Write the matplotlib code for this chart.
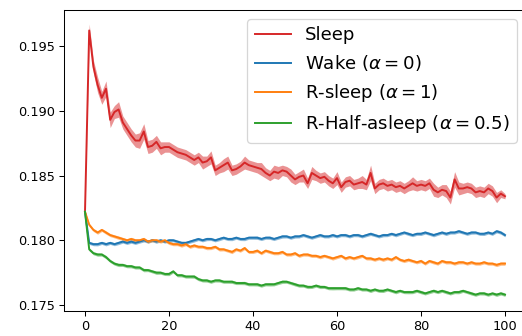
import numpy as np
import matplotlib
matplotlib.use("Agg")
import matplotlib.pyplot as plt

epochs = list(range(101))

sleep = [0.1822, 0.1962, 0.1934, 0.1920, 0.1910, 0.1917, 0.1893, 0.1899, 0.1901, 0.1891,
         0.1886, 0.1881, 0.1877, 0.1877, 0.1884, 0.1872, 0.1873, 0.1876, 0.1871, 0.1872,
         0.1872, 0.1870, 0.1868, 0.1867, 0.1866, 0.1864, 0.1862, 0.1864, 0.1860, 0.1861,
         0.1864, 0.1854, 0.1856, 0.1858, 0.1860, 0.1854, 0.1855, 0.1857, 0.1860, 0.1858,
         0.1857, 0.1856, 0.1855, 0.1852, 0.1850, 0.1853, 0.1852, 0.1854, 0.1853, 0.1850,
         0.1847, 0.1849, 0.1850, 0.1844, 0.1852, 0.1850, 0.1848, 0.1849, 0.1846, 0.1844,
         0.1848, 0.1841, 0.1845, 0.1846, 0.1843, 0.1844, 0.1845, 0.1843, 0.1852, 0.1840,
         0.1843, 0.1844, 0.1842, 0.1843, 0.1841, 0.1842, 0.1840, 0.1842, 0.1844, 0.1842,
         0.1843, 0.1842, 0.1844, 0.1839, 0.1837, 0.1839, 0.1838, 0.1833, 0.1847, 0.1840,
         0.1840, 0.1841, 0.1840, 0.1837, 0.1838, 0.1837, 0.1840, 0.1838, 0.1833, 0.1836,
         0.1834]
sleep_err = [0.0001, 0.0005, 0.0005, 0.0006, 0.0005, 0.0006, 0.0006, 0.0005, 0.0006, 0.0005,
             0.0005, 0.0005, 0.0005, 0.0006, 0.0006, 0.0005, 0.0005, 0.0005, 0.0005, 0.0004,
             0.0004, 0.0004, 0.0004, 0.0004, 0.0004, 0.0004, 0.0004, 0.0004, 0.0005, 0.0004,
             0.0005, 0.0004, 0.0004, 0.0005, 0.0005, 0.0004, 0.0004, 0.0004, 0.0005, 0.0004,
             0.0004, 0.0004, 0.0005, 0.0004, 0.0004, 0.0005, 0.0005, 0.0004, 0.0004, 0.0005,
             0.0004, 0.0004, 0.0005, 0.0004, 0.0005, 0.0004, 0.0004, 0.0004, 0.0004, 0.0004,
             0.0005, 0.0004, 0.0004, 0.0004, 0.0004, 0.0004, 0.0005, 0.0004, 0.0006, 0.0004,
             0.0004, 0.0004, 0.0004, 0.0004, 0.0004, 0.0004, 0.0004, 0.0004, 0.0005, 0.0004,
             0.0004, 0.0004, 0.0004, 0.0005, 0.0004, 0.0004, 0.0005, 0.0005, 0.0006, 0.0005,
             0.0004, 0.0004, 0.0004, 0.0004, 0.0004, 0.0004, 0.0004, 0.0004, 0.0004, 0.0003,
             0.0002]

wake = [0.1822, 0.1798, 0.1797, 0.1797, 0.1798, 0.1797, 0.1798, 0.1797, 0.1798, 0.1799,
        0.1798, 0.1799, 0.1798, 0.1799, 0.1800, 0.1799, 0.1800, 0.1799, 0.1800, 0.1799,
        0.1800, 0.1800, 0.1799, 0.1798, 0.1798, 0.1799, 0.1800, 0.1801, 0.1800, 0.1801,
        0.1801, 0.1800, 0.1801, 0.1802, 0.1801, 0.1801, 0.1802, 0.1801, 0.1801, 0.1802,
        0.1802, 0.1802, 0.1801, 0.1802, 0.1802, 0.1801, 0.1802, 0.1803, 0.1803, 0.1802,
        0.1803, 0.1803, 0.1804, 0.1803, 0.1802, 0.1803, 0.1804, 0.1803, 0.1803, 0.1804,
        0.1803, 0.1804, 0.1804, 0.1803, 0.1804, 0.1804, 0.1803, 0.1804, 0.1805, 0.1804,
        0.1803, 0.1804, 0.1804, 0.1805, 0.1804, 0.1805, 0.1806, 0.1805, 0.1804, 0.1805,
        0.1805, 0.1806, 0.1805, 0.1804, 0.1805, 0.1806, 0.1805, 0.1806, 0.1806, 0.1807,
        0.1806, 0.1805, 0.1806, 0.1806, 0.1805, 0.1805, 0.1806, 0.1805, 0.1807, 0.1806,
        0.1804]

r_sleep = [0.1822, 0.1812, 0.1808, 0.1806, 0.1808, 0.1806, 0.1804, 0.1803, 0.1802, 0.1801,
           0.1800, 0.1801, 0.1800, 0.1800, 0.1801, 0.1799, 0.1800, 0.1800, 0.1799, 0.1800,
           0.1798, 0.1797, 0.1797, 0.1796, 0.1797, 0.1795, 0.1796, 0.1795, 0.1795, 0.1794,
           0.1794, 0.1795, 0.1793, 0.1793, 0.1792, 0.1791, 0.1793, 0.1792, 0.1794, 0.1791,
           0.1791, 0.1792, 0.1790, 0.1792, 0.1791, 0.1790, 0.1790, 0.1791, 0.1789, 0.1789,
           0.1790, 0.1788, 0.1789, 0.1789, 0.1788, 0.1788, 0.1787, 0.1788, 0.1787, 0.1786,
           0.1787, 0.1788, 0.1786, 0.1787, 0.1786, 0.1787, 0.1788, 0.1786, 0.1786, 0.1785,
           0.1786, 0.1785, 0.1786, 0.1785, 0.1787, 0.1785, 0.1784, 0.1785, 0.1784, 0.1783,
           0.1784, 0.1782, 0.1784, 0.1783, 0.1782, 0.1784, 0.1783, 0.1783, 0.1782, 0.1783,
           0.1783, 0.1782, 0.1783, 0.1782, 0.1782, 0.1783, 0.1782, 0.1782, 0.1781, 0.1782,
           0.1782]

r_half = [0.1822, 0.1793, 0.1790, 0.1789, 0.1789, 0.1787, 0.1784, 0.1782, 0.1781, 0.1781,
          0.1780, 0.1780, 0.1779, 0.1779, 0.1777, 0.1777, 0.1776, 0.1775, 0.1775, 0.1774,
          0.1774, 0.1776, 0.1773, 0.1773, 0.1772, 0.1772, 0.1772, 0.1770, 0.1769, 0.1769,
          0.1768, 0.1769, 0.1769, 0.1768, 0.1768, 0.1768, 0.1767, 0.1767, 0.1767, 0.1766,
          0.1766, 0.1766, 0.1765, 0.1766, 0.1766, 0.1766, 0.1767, 0.1768, 0.1768, 0.1767,
          0.1766, 0.1765, 0.1765, 0.1764, 0.1764, 0.1765, 0.1764, 0.1764, 0.1763, 0.1763,
          0.1763, 0.1763, 0.1763, 0.1762, 0.1762, 0.1763, 0.1762, 0.1762, 0.1761, 0.1762,
          0.1761, 0.1761, 0.1762, 0.1761, 0.1760, 0.1761, 0.1760, 0.1760, 0.1760, 0.1761,
          0.1760, 0.1759, 0.1760, 0.1761, 0.1760, 0.1761, 0.1760, 0.1759, 0.1760, 0.1760,
          0.1761, 0.1760, 0.1759, 0.1758, 0.1759, 0.1759, 0.1758, 0.1759, 0.1758, 0.1759,
          0.1758]

small_err = [0.00010, 0.00012, 0.00012, 0.00013, 0.00012, 0.00013, 0.00012, 0.00012, 0.00013, 0.00012,
             0.00012, 0.00013, 0.00012, 0.00012, 0.00013, 0.00012, 0.00012, 0.00013, 0.00012, 0.00012,
             0.00013, 0.00012, 0.00012, 0.00013, 0.00012, 0.00012, 0.00013, 0.00012, 0.00012, 0.00013,
             0.00012, 0.00012, 0.00013, 0.00012, 0.00012, 0.00013, 0.00012, 0.00012, 0.00013, 0.00012,
             0.00012, 0.00013, 0.00012, 0.00012, 0.00013, 0.00012, 0.00012, 0.00013, 0.00012, 0.00012,
             0.00013, 0.00012, 0.00012, 0.00013, 0.00012, 0.00012, 0.00013, 0.00012, 0.00012, 0.00013,
             0.00012, 0.00012, 0.00013, 0.00012, 0.00012, 0.00013, 0.00012, 0.00012, 0.00013, 0.00012,
             0.00012, 0.00013, 0.00012, 0.00012, 0.00013, 0.00012, 0.00012, 0.00013, 0.00012, 0.00012,
             0.00013, 0.00012, 0.00012, 0.00013, 0.00012, 0.00012, 0.00013, 0.00012, 0.00012, 0.00013,
             0.00012, 0.00012, 0.00013, 0.00012, 0.00012, 0.00013, 0.00012, 0.00012, 0.00013, 0.00013,
             0.00013]

labels = ["Sleep", r"Wake ($\alpha=0$)", r"R-sleep ($\alpha=1$)", r"R-Half-asleep ($\alpha=0.5$)"]
colors = ["#d62728", "#1f77b4", "#ff7f0e", "#2ca02c"]
series = [(sleep, sleep_err), (wake, small_err), (r_sleep, small_err), (r_half, small_err)]

DPI = 93
fig = plt.figure(figsize=(522 / DPI, 336 / DPI), dpi=DPI)
ax = fig.add_axes([64 / 522, 25 / 336, 462 / 522, 301 / 336])

x = np.array(epochs)
for (vals, err), lab, col in zip(series, labels, colors):
    v = np.array(vals)
    e = np.array(err)
    ax.fill_between(x, v - e, v + e, color=col, alpha=0.5, linewidth=0)
    ax.plot(x, v, color=col, label=lab, linewidth=1.5)

ax.set_xlim(-5, 105)
ax.set_ylim(0.17454, 0.19778)
ax.set_xticks([0, 20, 40, 60, 80, 100])
ax.set_yticks([0.175, 0.180, 0.185, 0.190, 0.195])
ax.legend(loc="upper right", fontsize=14)

fig.savefig("out.png", dpi=DPI)
